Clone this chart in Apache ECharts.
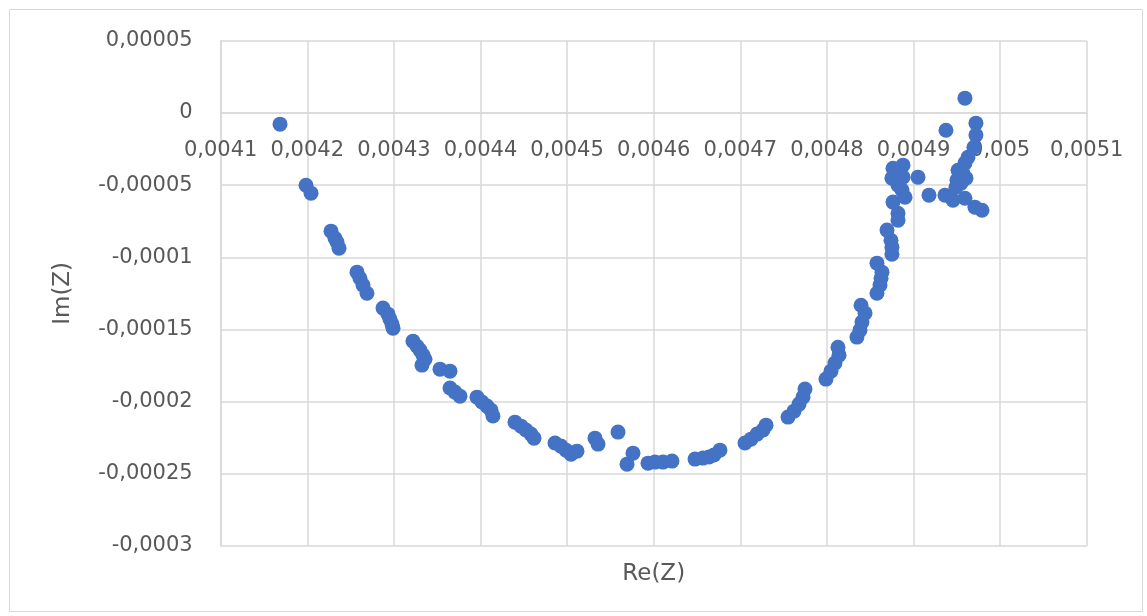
<!DOCTYPE html>
<html>
<head>
<meta charset="utf-8">
<script src="https://cdn.jsdelivr.net/npm/echarts@6/dist/echarts.min.js"></script>
<style>html,body{margin:0;padding:0;background:#fff;}#c{width:1147px;height:616px;}</style>
</head>
<body>
<div id="c"></div>
<script>
const reZ = [0.0041685,0.0041985,0.0042043,0.0042274,0.004232,0.0042343,0.0042366,0.0042574,0.0042608,0.0042643,0.0042689,0.0042874,0.0042932,0.0042955,0.0042978,0.004299,0.004322,0.0043267,0.0043301,0.0043336,0.0043359,0.0043324,0.0043532,0.0043648,0.0043648,0.0043705,0.0043763,0.0043959,0.0044017,0.0044075,0.0044121,0.0044144,0.0044398,0.0044468,0.0044525,0.0044583,0.0044618,0.004486,0.0044929,0.0044987,0.0045045,0.0045114,0.0045322,0.0045357,0.0045588,0.0045692,0.0045761,0.0045934,0.0046015,0.0046107,0.0046211,0.0046477,0.0046569,0.0046638,0.0046696,0.0046765,0.0047054,0.0047123,0.0047193,0.0047262,0.0047297,0.0047551,0.004762,0.0047678,0.0047724,0.0047747,0.0047989,0.0048047,0.0048093,0.004814,0.0048128,0.0048347,0.0048382,0.0048405,0.004844,0.0048394,0.0048578,0.0048613,0.0048625,0.0048636,0.0048578,0.0048751,0.0048751,0.004874,0.0048694,0.0048821,0.0048821,0.0048763,0.0048902,0.0048867,0.0048821,0.0048751,0.0048763,0.0048879,0.0048879,0.0048821,0.0049052,0.0049179,0.0049375,0.0049364,0.0049456,0.0049594,0.0049721,0.0049721,0.0049698,0.0049629,0.0049594,0.0049571,0.0049514,0.0049502,0.004949,0.0049594,0.0049709,0.0049791,0.0049606,0.0049548];
const imZ = [-0.0000078,-0.0000501,-0.0000556,-0.0000819,-0.0000868,-0.0000895,-0.0000937,-0.0001103,-0.0001145,-0.0001193,-0.0001249,-0.0001352,-0.0001394,-0.0001429,-0.0001463,-0.0001491,-0.0001581,-0.0001616,-0.0001643,-0.0001678,-0.0001706,-0.0001747,-0.0001775,-0.0001789,-0.0001906,-0.0001934,-0.0001962,-0.0001969,-0.0002003,-0.0002031,-0.0002059,-0.00021,-0.0002142,-0.000217,-0.0002197,-0.0002225,-0.0002253,-0.0002287,-0.0002308,-0.0002336,-0.0002364,-0.0002343,-0.0002253,-0.0002294,-0.0002211,-0.0002433,-0.0002357,-0.0002426,-0.0002419,-0.0002419,-0.0002412,-0.0002398,-0.0002391,-0.0002384,-0.000237,-0.0002336,-0.0002287,-0.000226,-0.0002225,-0.0002197,-0.0002163,-0.0002107,-0.0002066,-0.0002017,-0.0001969,-0.0001913,-0.0001844,-0.0001789,-0.0001733,-0.0001678,-0.0001623,-0.0001553,-0.0001505,-0.0001449,-0.0001387,-0.0001332,-0.0001249,-0.0001193,-0.0001145,-0.0001103,-0.0001041,-0.0000979,-0.000093,-0.0000882,-0.0000812,-0.0000743,-0.0000695,-0.0000618,-0.0000584,-0.0000535,-0.0000501,-0.0000452,-0.0000383,-0.0000362,-0.0000445,-0.0000418,-0.0000445,-0.000057,-0.000012,-0.000057,-0.0000605,0.0000102,-0.0000071,-0.0000154,-0.0000238,-0.0000307,-0.0000348,-0.0000418,-0.0000397,-0.0000466,-0.0000515,-0.0000591,-0.0000653,-0.0000674,-0.0000452,-0.0000487];
const xRange = {min: 0.0041, max: 0.0051, step: 0.0001};
const yRange = {min: -0.0003, max: 0.00005, step: 0.00005};
const xTitle = 'Re(Z)';
const yTitle = 'Im(Z)';

const points = reZ.map((x, i) => [x, imZ[i]]);
const fmt = v => String(+(+v).toPrecision(8)).replace('.', ',');
const gridColor = '#d9d9d9';
const textColor = '#595959';
const font = 'DejaVu Sans';

const gridTop = 40.7, gridBottom = 70, H = 616;
const plotH = H - gridTop - gridBottom;
// distance from bottom edge of plot to the y = 0 line (computed from the y scale)
const zeroOffset = plotH * (0 - yRange.min) / (yRange.max - yRange.min);

const chart = echarts.init(document.getElementById('c'), null, {renderer: 'canvas'});
chart.setOption({
  animation: false,
  backgroundColor: '#ffffff',
  graphic: [{
    type: 'rect', left: 7, top: 7, shape: {width: 1133, height: 602},
    style: {fill: 'none', stroke: '#d9d9d9', lineWidth: 1}, silent: true, z: -1
  }],
  grid: {left: 220.7, right: 60.3, top: gridTop, bottom: gridBottom, containLabel: false, outerBoundsMode: 'none'},
  xAxis: {
    type: 'value', min: xRange.min, max: xRange.max, interval: xRange.step,
    position: 'bottom', offset: -zeroOffset,
    name: xTitle, nameLocation: 'middle', nameGap: 450,
    nameTextStyle: {color: textColor, fontSize: 23, fontFamily: font},
    axisLine: {show: true, onZero: false, lineStyle: {color: gridColor, width: 1.5}},
    axisTick: {show: false},
    axisLabel: {color: textColor, fontSize: 21, fontFamily: font, margin: 27, formatter: fmt, hideOverlap: false, showMinLabel: true, showMaxLabel: true},
    splitLine: {show: true, lineStyle: {color: gridColor, width: 1.5}}
  },
  yAxis: {
    type: 'value', min: yRange.min, max: yRange.max, interval: yRange.step,
    name: yTitle, nameLocation: 'middle', nameGap: 146, nameRotate: 90,
    nameTextStyle: {color: textColor, fontSize: 23, fontFamily: font},
    axisLine: {show: true, onZero: false, lineStyle: {color: gridColor, width: 1.5}},
    axisTick: {show: false},
    axisLabel: {color: textColor, fontSize: 21, fontFamily: font, margin: 28, formatter: fmt, showMinLabel: true, showMaxLabel: true},
    splitLine: {show: true, lineStyle: {color: gridColor, width: 1.5}}
  },
  series: [{
    type: 'scatter', data: points, symbol: 'circle', symbolSize: 15,
    itemStyle: {color: '#4472C4', opacity: 1}
  }]
});
</script>
</body>
</html>
